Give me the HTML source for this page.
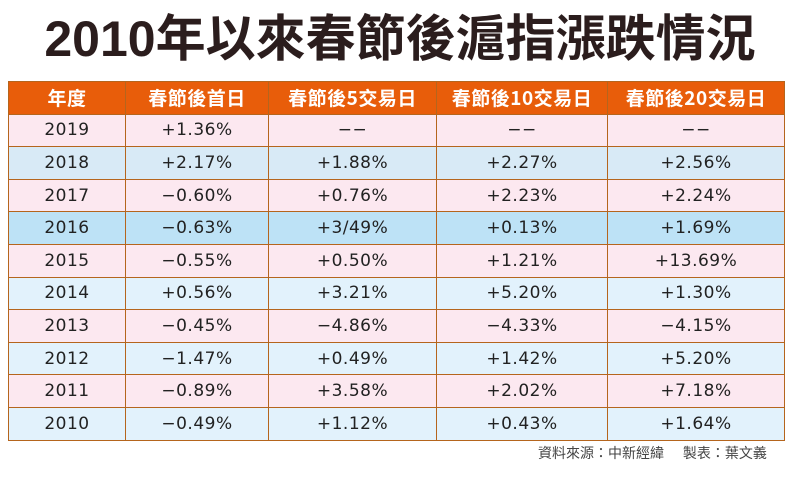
<!DOCTYPE html>
<html><head><meta charset="utf-8"><style>
body{margin:0;width:800px;height:477px;background:#fff;overflow:hidden;font-family:"Liberation Sans","Noto Sans CJK TC",sans-serif;position:relative}
.title{position:absolute;left:0;width:800px;top:8px;text-align:center;font-size:50px;font-weight:bold;color:#2b1d1d;line-height:62px;font-family:"Liberation Sans","Noto Sans CJK TC",sans-serif}
table{position:absolute;left:8px;top:81px;width:776px;border-collapse:collapse;table-layout:fixed}
td,th{border:1.5px solid #b5651d;text-align:center;height:31.6px;padding:0;font-size:17px;color:#222;font-family:"DejaVu Sans","Noto Sans CJK TC",sans-serif;letter-spacing:0.5px}
th{background:#e85d0a;color:#fff;font-size:19px;font-weight:bold;font-family:"Noto Sans CJK TC",sans-serif}
.p td{background:#fce8f0}.b td{background:#d8eaf6}.d td{background:#bde2f6}.l td{background:#e2f2fc}
.foot{position:absolute;top:443px;left:538px;font-size:14px;color:#444;font-family:"Noto Sans CJK TC",sans-serif;white-space:pre}
</style></head><body>
<div class="title">2010年以來春節後滬指漲跌情況</div>
<table>
<colgroup><col style="width:117px"><col style="width:143px"><col style="width:168px"><col style="width:171px"><col style="width:177px"></colgroup>
<tr><th>年度</th><th>春節後首日</th><th>春節後5交易日</th><th>春節後10交易日</th><th>春節後20交易日</th></tr>
<tr class="p"><td>2019</td><td>+1.36%</td><td>−−</td><td>−−</td><td>−−</td></tr>
<tr class="b"><td>2018</td><td>+2.17%</td><td>+1.88%</td><td>+2.27%</td><td>+2.56%</td></tr>
<tr class="p"><td>2017</td><td>−0.60%</td><td>+0.76%</td><td>+2.23%</td><td>+2.24%</td></tr>
<tr class="d"><td>2016</td><td>−0.63%</td><td>+3/49%</td><td>+0.13%</td><td>+1.69%</td></tr>
<tr class="p"><td>2015</td><td>−0.55%</td><td>+0.50%</td><td>+1.21%</td><td>+13.69%</td></tr>
<tr class="l"><td>2014</td><td>+0.56%</td><td>+3.21%</td><td>+5.20%</td><td>+1.30%</td></tr>
<tr class="p"><td>2013</td><td>−0.45%</td><td>−4.86%</td><td>−4.33%</td><td>−4.15%</td></tr>
<tr class="l"><td>2012</td><td>−1.47%</td><td>+0.49%</td><td>+1.42%</td><td>+5.20%</td></tr>
<tr class="p"><td>2011</td><td>−0.89%</td><td>+3.58%</td><td>+2.02%</td><td>+7.18%</td></tr>
<tr class="l"><td>2010</td><td>−0.49%</td><td>+1.12%</td><td>+0.43%</td><td>+1.64%</td></tr>
</table>
<div class="foot">資料來源：中新經緯      製表：葉文義</div>
</body></html>
